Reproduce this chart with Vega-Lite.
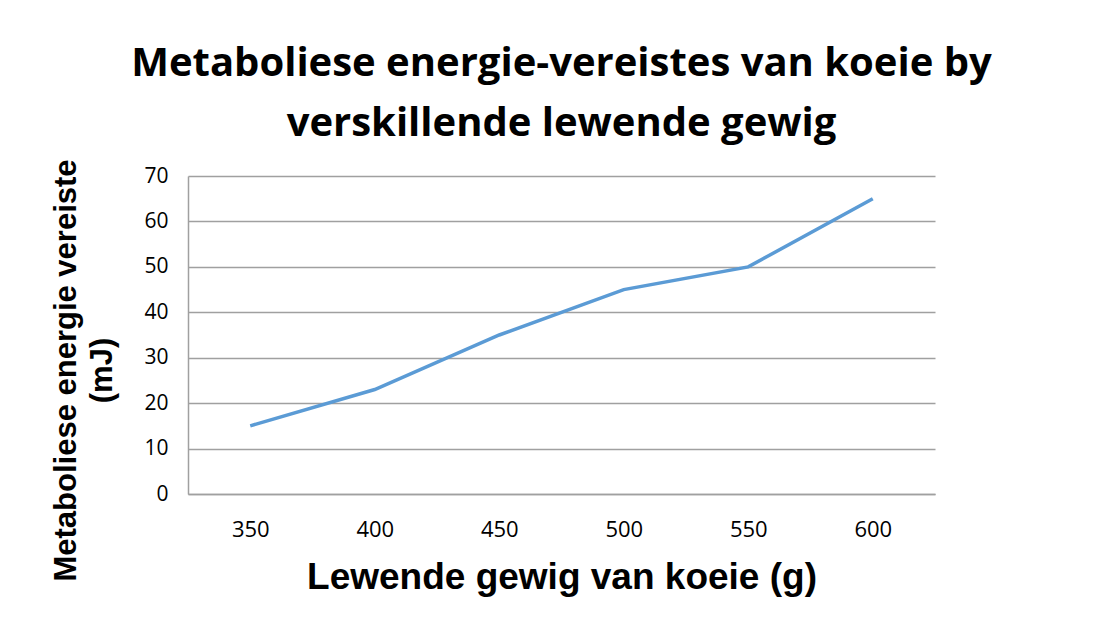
{
  "$schema": "https://vega.github.io/schema/vega-lite/v6.json",
  "autosize": "none",
  "width": 747,
  "height": 318,
  "padding": {"left": 188, "top": 176, "right": 172, "bottom": 148},
  "background": "white",
  "title": {
    "text": ["Metaboliese energie-vereistes van koeie by", "verskillende lewende gewig"],
    "font": "Open Sans",
    "fontSize": 40,
    "fontWeight": "bold",
    "color": "black",
    "lineHeight": 60,
    "anchor": "middle",
    "offset": 15
  },
  "data": {
    "values": [
      {"gewig": "350", "energie": 15},
      {"gewig": "400", "energie": 23},
      {"gewig": "450", "energie": 35},
      {"gewig": "500", "energie": 45},
      {"gewig": "550", "energie": 50},
      {"gewig": "600", "energie": 65}
    ]
  },
  "mark": {"type": "line", "color": "#5B9BD5", "strokeWidth": 3.5},
  "encoding": {
    "x": {
      "field": "gewig",
      "type": "ordinal",
      "scale": {"paddingInner": 0, "paddingOuter": 0},
      "sort": null,
      "axis": {
        "title": "Lewende gewig van koeie (g)",
        "titleFont": "Liberation Sans",
        "titleFontSize": 37,
        "titleFontWeight": "bold",
        "titleColor": "black",
        "titlePadding": 19,
        "labelFont": "Open Sans",
        "labelFontSize": 22,
        "labelColor": "black",
        "labelAngle": 0,
        "labelPadding": 25,
        "ticks": false,
        "grid": false,
        "domainColor": "#a0a0a0",
        "domainWidth": 1.5
      }
    },
    "y": {
      "field": "energie",
      "type": "quantitative",
      "scale": {"domain": [0, 70], "nice": false},
      "axis": {
        "values": [0, 10, 20, 30, 40, 50, 60, 70],
        "title": ["Metaboliese energie vereiste", "(mJ)"],
        "titleFont": "Liberation Sans",
        "titleFontSize": 31,
        "titleFontWeight": "bold",
        "titleColor": "black",
        "titleLineHeight": 36,
        "titlePadding": 25,
        "titleY": 194,
        "labelFont": "Open Sans",
        "labelFontSize": 21,
        "labelColor": "black",
        "labelPadding": 20,
        "ticks": false,
        "grid": true,
        "gridColor": "#a0a0a0",
        "gridWidth": 1.5,
        "domainColor": "#a0a0a0",
        "domainWidth": 1.5
      }
    }
  },
  "config": {"view": {"stroke": null}}
}
